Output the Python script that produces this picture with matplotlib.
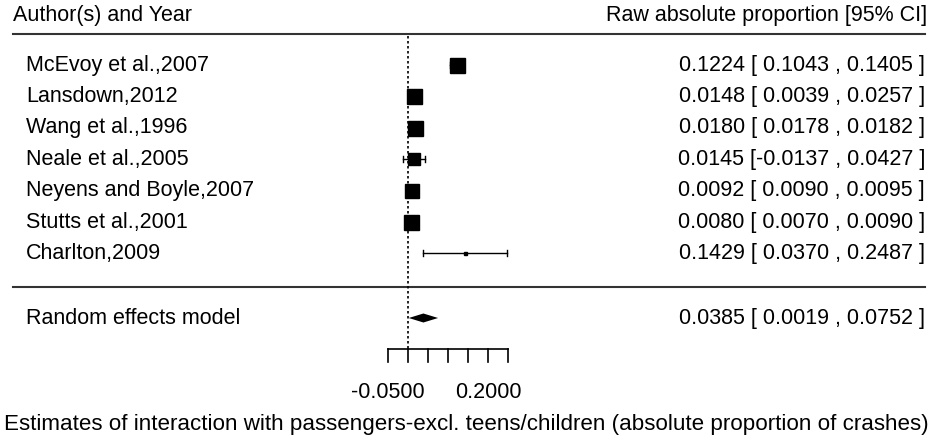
import matplotlib
matplotlib.use("Agg")
import matplotlib.pyplot as plt

# study data (raw absolute proportion with 95% CI)
studies = ["McEvoy et al.,2007", "Lansdown,2012", "Wang et al.,1996", "Neale et al.,2005",
           "Neyens and Boyle,2007", "Stutts et al.,2001", "Charlton,2009"]
est = [0.1224, 0.0148, 0.0180, 0.0145, 0.0092, 0.0080, 0.1429]
ci_lo = [0.1043, 0.0039, 0.0178, -0.0137, 0.0090, 0.0070, 0.0370]
ci_hi = [0.1405, 0.0257, 0.0182, 0.0427, 0.0095, 0.0090, 0.2487]

re_est, re_lo, re_hi = 0.0385, 0.0019, 0.0752

axis_ticks = [-0.05, 0.0, 0.05, 0.10, 0.15, 0.20, 0.25]
axis_labels = {-0.05: "-0.0500", 0.20: "0.2000"}

# box size in pixels for each study (weights)
box_px = [15, 15, 15, 12, 14, 15, 3]

FONT = "Liberation Sans"
FS = 15.5

W, H = 935, 444
fig = plt.figure(figsize=(W / 100, H / 100), dpi=100)
ax = fig.add_axes([0, 0, 1, 1])
# 0.05 units per 20 pixels, zero at pixel 408
x0, scale = 408, 400.0
ax.set_xlim(-x0 / scale, (W - x0) / scale)
ax.set_ylim(H, 0)
ax.axis("off")

px = lambda p: (p - x0) / scale

row_y = [65 + 31.4 * i for i in range(len(studies))]
re_y = 318
left_x, right_x = px(26), px(925)

# headers and rules
ax.text(px(13), 16, "Author(s) and Year", ha="left", va="center", fontsize=FS, family=FONT)
ax.text(px(927), 16, "Raw absolute proportion [95% CI]", ha="right", va="center", fontsize=FS, family=FONT)
ax.plot([px(13), px(925)], [34, 34], c="#333333", lw=1.5)
ax.plot([px(13), px(925)], [287, 287], c="#333333", lw=1.5)

# reference line
ax.plot([0, 0], [36, 349], c="black", lw=1.2, ls=(0, (1.5, 1.5)))

for i, name in enumerate(studies):
    y = row_y[i]
    ax.text(left_x, y, name, ha="left", va="center", fontsize=FS, family=FONT)
    ax.text(right_x, y, f"{est[i]:.4f} [{ci_lo[i]: .4f} , {ci_hi[i]:.4f} ]",
            ha="right", va="center", fontsize=FS, family=FONT)
    ax.plot([ci_lo[i], ci_hi[i]], [y, y], c="black", lw=1)
    for e in (ci_lo[i], ci_hi[i]):
        ax.plot([e, e], [y - 3, y + 3], c="black", lw=1)
    ax.plot(est[i], y, marker="s", ms=box_px[i] * 0.72, c="black", mec="black")

# summary
ax.text(left_x, re_y, "Random effects model", ha="left", va="center", fontsize=FS, family=FONT)
ax.text(right_x, re_y, f"{re_est:.4f} [ {re_lo:.4f} , {re_hi:.4f} ]",
        ha="right", va="center", fontsize=FS, family=FONT)
ax.fill([re_lo, re_est, re_hi, re_est], [re_y, re_y - 4.5, re_y, re_y + 4.5], c="black", lw=0)

# x axis
ax.plot([axis_ticks[0], axis_ticks[-1]], [349, 349], c="black", lw=1.2)
for t in axis_ticks:
    ax.plot([t, t], [349, 362], c="black", lw=1.2)
    if t in axis_labels:
        ax.text(t, 392, axis_labels[t], ha="center", va="center", fontsize=FS, family=FONT)

ax.text(px(466), 424, "Estimates of interaction with passengers-excl. teens/children (absolute proportion of crashes)",
        ha="center", va="center", fontsize=16.1, family=FONT)

fig.savefig("out.png", dpi=100)
